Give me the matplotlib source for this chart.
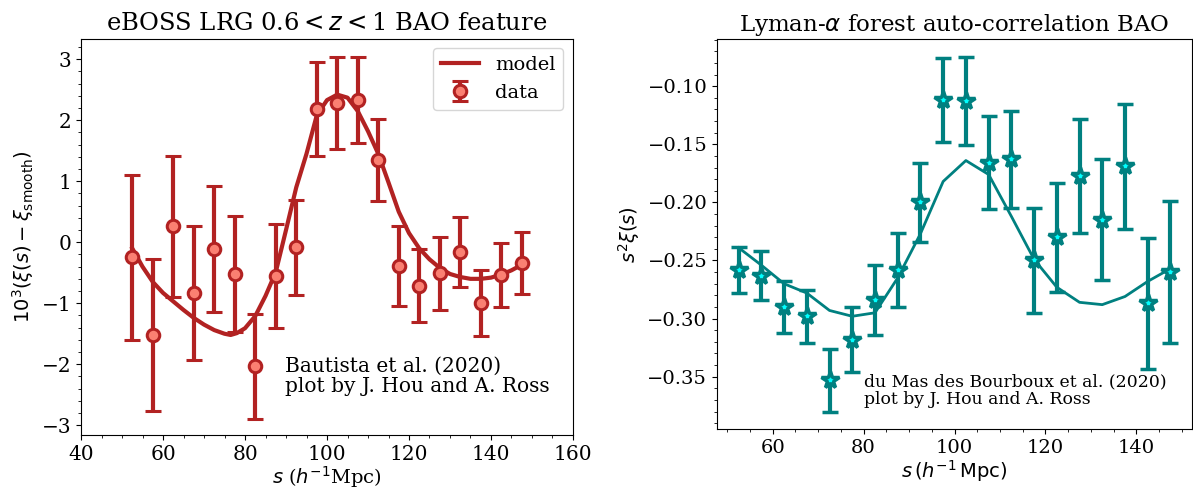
import numpy as np
import matplotlib
matplotlib.use('Agg')
import matplotlib.pyplot as plt
from matplotlib.ticker import MultipleLocator

plt.rcParams['font.family'] = ['DejaVu Serif']
plt.rcParams['mathtext.fontset'] = 'dejavusans'

# eBOSS LRG BAO feature
s_lrg = [52.5, 57.5, 62.5, 67.5, 72.5, 77.5, 82.5, 87.5, 92.5, 97.5,
         102.5, 107.5, 112.5, 117.5, 122.5, 127.5, 132.5, 137.5, 142.5, 147.5]
xi_lrg = [-0.25, -1.52, 0.26, -0.83, -0.11, -0.52, -2.03, -0.55, -0.08, 2.19,
          2.28, 2.33, 1.35, -0.39, -0.71, -0.51, -0.16, -1.00, -0.54, -0.34]
err_lrg = [1.35, 1.25, 1.16, 1.10, 1.03, 0.95, 0.86, 0.85, 0.78, 0.77,
           0.75, 0.71, 0.67, 0.65, 0.60, 0.60, 0.57, 0.54, 0.52, 0.51]
s_model_lrg = [52.5, 55, 57.5, 60, 62.5, 65, 67.5, 70, 72.5, 75, 76.5, 78, 80,
               82.5, 85, 87.5, 90, 92.5, 95, 97.5, 100, 102.5, 105, 107.5, 110,
               112.5, 115, 117.5, 120, 122.5, 125, 127.5, 130, 132.5, 135,
               137.5, 140, 142.5, 145, 147.5]
model_lrg = [-0.10, -0.40, -0.65, -0.83, -0.97, -1.11, -1.24, -1.35, -1.44,
             -1.50, -1.52, -1.49, -1.41, -1.21, -0.88, -0.49, 0.20, 0.90,
             1.45, 2.08, 2.33, 2.42, 2.37, 2.15, 1.82, 1.45, 0.98, 0.50,
             0.15, -0.10, -0.28, -0.42, -0.52, -0.57, -0.60, -0.60, -0.58,
             -0.53, -0.46, -0.37]

# Lyman-alpha auto-correlation
s_lya = s_lrg
xi_lya = [-0.258, -0.263, -0.290, -0.298, -0.353, -0.318, -0.284, -0.258,
          -0.200, -0.112, -0.113, -0.166, -0.163, -0.250, -0.230, -0.177,
          -0.215, -0.169, -0.287, -0.260]
err_lya = [0.020, 0.021, 0.022, 0.023, 0.027, 0.028, 0.030, 0.032, 0.034,
           0.036, 0.038, 0.040, 0.042, 0.045, 0.047, 0.049, 0.052, 0.054,
           0.056, 0.061]
model_lya = [-0.239, -0.254, -0.270, -0.278, -0.293, -0.298, -0.295, -0.265,
             -0.227, -0.182, -0.164, -0.176, -0.212, -0.249, -0.273, -0.286,
             -0.288, -0.281, -0.268, -0.257]

fig = plt.figure(figsize=(11.93, 4.88), dpi=100)

# left panel
ax1 = fig.add_axes([0.0679, 0.1086, 0.4124, 0.8125])
ax1.plot(s_model_lrg, model_lrg, color='firebrick', lw=3, label='model')
ax1.errorbar(s_lrg, xi_lrg, yerr=err_lrg, fmt='o', color='firebrick',
             mfc='salmon', mec='firebrick', ms=9, mew=2.2, elinewidth=3,
             capsize=6, capthick=3, label='data')
ax1.set_xlim(40, 160)
ax1.set_ylim(-3.16, 3.34)
ax1.xaxis.set_minor_locator(MultipleLocator(5))
ax1.yaxis.set_minor_locator(MultipleLocator(0.2))
ax1.tick_params(labelsize=14.5)
ax1.set_title(r'eBOSS LRG 0.6$<z<$1 BAO feature', fontsize=17.5)
ax1.set_xlabel(r'$s$ ($h^{-1}$Mpc)', fontsize=14, labelpad=0)
ax1.set_ylabel(r'$10^3(\xi(s)-\xi_{\rm smooth})$', fontsize=14)
ax1.legend(loc='upper right', fontsize=14)
ax1.text(89.8, -2.52, 'Bautista et al. (2020)\nplot by J. Hou and A. Ross',
         fontsize=14.5, va='bottom', linespacing=1.05)

# right panel
ax2 = fig.add_axes([0.601, 0.1203, 0.3982, 0.799])
ax2.plot(s_lya, model_lya, color='teal', lw=2)
ax2.errorbar(s_lya, xi_lya, yerr=err_lya, fmt='*', color='teal',
             mfc='cyan', mec='teal', ms=13, mew=2.5, elinewidth=3,
             capsize=6, capthick=3)
ax2.xaxis.set_minor_locator(MultipleLocator(5))
ax2.yaxis.set_minor_locator(MultipleLocator(0.01))
ax2.tick_params(labelsize=14)
ax2.set_title(r'Lyman-$\alpha$ forest auto-correlation BAO', fontsize=16.5)
ax2.set_xlabel(r'$s\,(h^{-1}\,\mathrm{Mpc})$', fontsize=14, labelpad=1)
ax2.set_ylabel(r'$s^2\xi(s)$', fontsize=14)
ax2.text(80, -0.3765, 'du Mas des Bourboux et al. (2020)\nplot by J. Hou and A. Ross',
         fontsize=12.4, va='bottom', linespacing=1.0)

fig.savefig('out.png', dpi=100)
